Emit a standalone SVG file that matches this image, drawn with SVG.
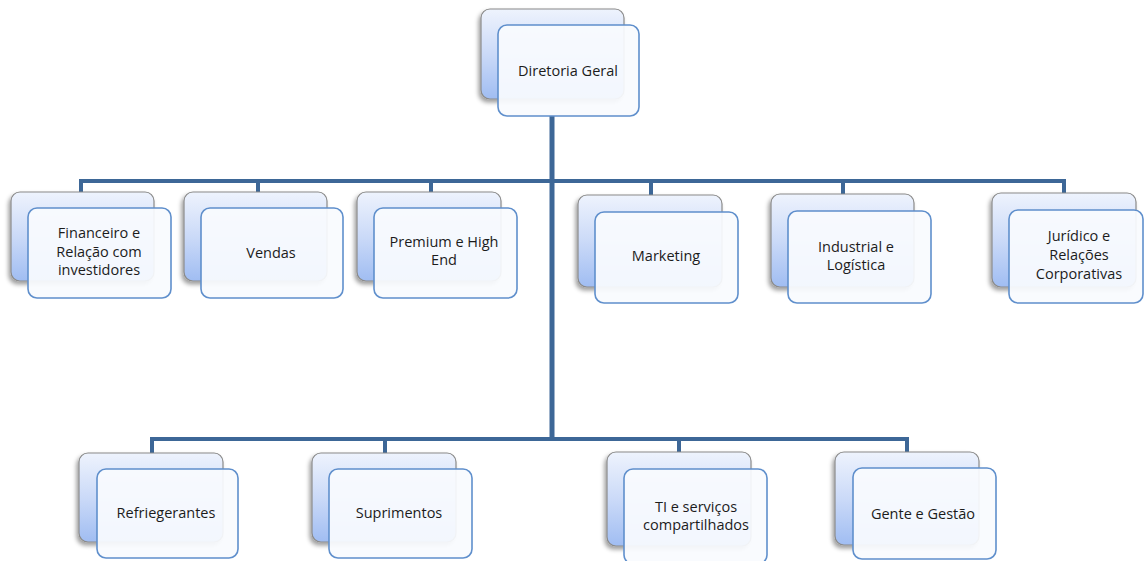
<svg xmlns="http://www.w3.org/2000/svg" width="1145" height="561" viewBox="0 0 1145 561">
  <defs>
    <linearGradient id="backFill" x1="0" y1="0" x2="0" y2="1">
      <stop offset="0" stop-color="#eef3fd"/>
      <stop offset="0.5" stop-color="#cbdaf8"/>
      <stop offset="1" stop-color="#a0bdf2"/>
    </linearGradient>
    <filter id="shade" x="-20%" y="-20%" width="140%" height="150%">
      <feDropShadow dx="-2" dy="3" stdDeviation="2" flood-color="#000" flood-opacity="0.38"/>
    </filter>
  </defs>
  <style>
    .back { fill: url(#backFill); stroke: #8a8a8a; stroke-width: 1.2; filter: url(#shade); }
    .front { fill: #f9fbfe; fill-opacity: 0.93; stroke: #5f8fcc; stroke-width: 1.6; }
    .lbl { font-family: "Open Sans", "Liberation Sans", sans-serif; font-size: 14.5px; fill: #1c1c1c; text-anchor: middle; }
    .wire { fill: none; stroke: #3d6797; stroke-width: 4; stroke-linejoin: miter; }
    .trunk { fill: none; stroke: #3d6797; stroke-width: 5; }
  </style>

  <rect width="1145" height="561" fill="#fff"/>

  <!-- connectors -->
  <g id="connectors">
    <path class="trunk" d="M552 116 V439"/>
    <path class="wire" d="M81 193 V181 H1064 V193"/>
    <path class="wire" d="M258 192 V181 M431 192 V181 M651 195 V181 M843 194 V181"/>
    <path class="wire" d="M152 453 V439 H907 V452"/>
    <path class="wire" d="M385 453 V439 M679 452 V439"/>
  </g>

  <g id="diretoria-geral">
    <rect class="back" x="481" y="9" width="143" height="90" rx="9"/>
    <rect class="front" x="498" y="25" width="141" height="91" rx="9"/>
    <text class="lbl" x="568" y="76">Diretoria Geral</text>
  </g>

  <g id="financeiro">
    <rect class="back" x="11" y="192" width="143" height="89" rx="9"/>
    <rect class="front" x="28" y="208" width="143" height="90" rx="9"/>
    <text class="lbl" x="99" y="238">Financeiro e</text>
    <text class="lbl" x="99" y="257">Relação com</text>
    <text class="lbl" x="99" y="275">investidores</text>
  </g>

  <g id="vendas">
    <rect class="back" x="184" y="192" width="143" height="89" rx="9"/>
    <rect class="front" x="201" y="208" width="142" height="90" rx="9"/>
    <text class="lbl" x="271" y="258">Vendas</text>
  </g>

  <g id="premium">
    <rect class="back" x="357" y="192" width="144" height="89" rx="9"/>
    <rect class="front" x="374" y="208" width="143" height="90" rx="9"/>
    <text class="lbl" x="444" y="247">Premium e High</text>
    <text class="lbl" x="444" y="265">End</text>
  </g>

  <g id="marketing">
    <rect class="back" x="578" y="195" width="144" height="92" rx="9"/>
    <rect class="front" x="595" y="212" width="143" height="91" rx="9"/>
    <text class="lbl" x="666" y="261">Marketing</text>
  </g>

  <g id="industrial">
    <rect class="back" x="771" y="194" width="143" height="93" rx="9"/>
    <rect class="front" x="788" y="211" width="143" height="92" rx="9"/>
    <text class="lbl" x="856" y="252">Industrial e</text>
    <text class="lbl" x="856" y="270">Logística</text>
  </g>

  <g id="juridico">
    <rect class="back" x="992" y="193" width="144" height="94" rx="9"/>
    <rect class="front" x="1009" y="210" width="134" height="93" rx="9"/>
    <text class="lbl" x="1079" y="241">Jurídico e</text>
    <text class="lbl" x="1079" y="260">Relações</text>
    <text class="lbl" x="1079" y="279">Corporativas</text>
  </g>

  <g id="refriegerantes">
    <rect class="back" x="79" y="453" width="144" height="89" rx="9"/>
    <rect class="front" x="97" y="469" width="141" height="89" rx="9"/>
    <text class="lbl" x="166" y="518">Refriegerantes</text>
  </g>

  <g id="suprimentos">
    <rect class="back" x="312" y="453" width="144" height="89" rx="9"/>
    <rect class="front" x="329" y="469" width="143" height="89" rx="9"/>
    <text class="lbl" x="399" y="518">Suprimentos</text>
  </g>

  <g id="ti">
    <rect class="back" x="607" y="452" width="144" height="94" rx="9"/>
    <rect class="front" x="624" y="469" width="143" height="95" rx="9"/>
    <text class="lbl" x="696" y="512">TI e serviços</text>
    <text class="lbl" x="696" y="530">compartilhados</text>
  </g>

  <g id="gente">
    <rect class="back" x="835" y="452" width="144" height="93" rx="9"/>
    <rect class="front" x="853" y="468" width="143" height="91" rx="9"/>
    <text class="lbl" x="923" y="519">Gente e Gestão</text>
  </g>
</svg>
